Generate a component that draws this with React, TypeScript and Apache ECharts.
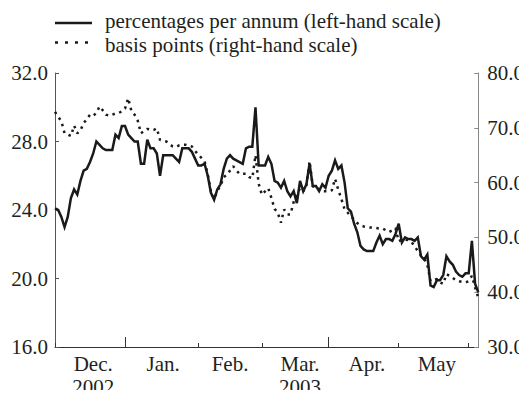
import React, { useEffect, useRef } from "react";
import * as echarts from "echarts";

// Trading days from 2 December 2002 to 5 June 2003
const FIRST_DAY = "2002-12-02";
const DAY_COUNT = 134;

// Solid line, left-hand scale (percentages per annum)
const percentagesPerAnnum = [
  24.1, 24.0, 23.6, 23.0, 23.6, 24.7, 25.2, 24.9, 25.7, 26.3,
  26.4, 26.8, 27.3, 28.0, 27.8, 27.6, 27.5, 27.5, 27.5, 28.4,
  28.2, 28.9, 28.9, 28.4, 28.2, 28.0, 28.0, 26.7, 26.7, 28.1,
  27.6, 27.6, 27.3, 26.0, 27.2, 27.2, 27.2, 27.2, 27.0, 26.8,
  27.6, 27.6, 27.6, 27.4, 27.0, 26.6, 26.6, 26.7, 26.0, 25.0,
  24.6, 25.2, 25.5, 26.4, 27.0, 27.2, 27.0, 26.9, 26.8, 26.7,
  27.6, 27.7, 27.7, 30.0, 26.6, 26.6, 26.6, 27.1, 26.7, 25.7,
  25.6, 25.3, 25.7, 25.1, 24.8, 25.1, 24.4, 25.7, 25.1, 25.5,
  26.7, 25.4, 25.4, 25.1, 25.5, 25.3, 26.0, 26.3, 26.9, 26.4,
  26.6, 25.6, 24.1, 23.9, 23.2, 22.7, 21.9, 21.7, 21.6, 21.6,
  21.6, 22.1, 22.5, 22.0, 22.3, 22.3, 22.2, 22.6, 23.2, 22.1,
  22.4, 22.3, 22.3, 22.2, 22.4, 21.3, 21.1, 21.4, 19.6, 19.5,
  19.9, 19.9, 20.2, 21.3, 21.0, 20.8, 20.4, 20.2, 20.1, 20.3,
  20.3, 22.2, 19.7, 19.2,
];

// Dotted line, right-hand scale (basis points)
const basisPoints = [
  72.9, 72.0, 71.2, 69.0, 68.8, 68.5, 70.4, 69.0, 69.5, 70.9,
  71.5, 72.4, 72.2, 72.7, 73.9, 73.2, 72.4, 72.2, 72.4, 72.6,
  72.7, 73.0, 73.5, 75.4, 73.1, 72.4, 71.3, 69.0, 69.4, 69.8,
  69.7, 69.6, 69.9, 67.8, 67.6, 67.5, 67.0, 66.6, 66.5, 66.8,
  66.9, 66.9, 66.7, 66.6, 65.8, 65.1, 64.5, 63.9, 61.5, 58.4,
  57.0, 58.5, 59.4, 61.0, 61.4, 62.2, 63.0, 62.2, 61.6, 61.6,
  61.6, 61.0, 60.8, 65.0, 59.8, 57.8, 58.4, 59.0, 57.2, 55.2,
  54.5, 52.7, 55.1, 54.2, 54.2, 56.5, 57.8, 59.0, 58.4, 59.5,
  63.9, 59.3, 59.3, 58.8, 58.4, 58.4, 58.4, 58.6, 60.7, 58.7,
  57.0, 55.1, 54.5, 53.8, 53.3, 52.6, 52.2, 52.0, 51.9, 51.8,
  51.8, 51.7, 51.6, 51.6, 51.3, 51.0, 51.3, 51.7, 49.3, 49.6,
  49.6, 49.5, 49.2, 48.4, 47.5, 46.7, 46.2, 45.0, 42.0, 42.2,
  42.4, 41.8, 41.5, 43.3, 43.0, 42.6, 42.2, 42.0, 41.9, 41.8,
  42.0, 43.0, 40.9, 39.0,
];

// Month names written under the axis, placed mid-month
const monthLabelDates = ["2002-12-18", "2003-01-17", "2003-02-17", "2003-03-19", "2003-04-17", "2003-05-19"];
const monthLabelTexts = ["Dec.", "Jan.", "Feb.", "Mar.", "Apr.", "May"];

// Years written below the first month of each year shown
const yearLabelDates = ["2002-12-18", "2003-03-19"];
const yearLabelTexts = ["2002", "2003"];

const leftTicks = { min: 16, max: 32, interval: 4 };
const rightTicks = { min: 30, max: 80, interval: 10 };

const SERIES_NAMES = ["percentages per annum (left-hand scale)", "basis points (right-hand scale)"];

function tradingDays(first: string, count: number): string[] {
  const out: string[] = [];
  const d = new Date(first + "T00:00:00Z");
  while (out.length < count) {
    const wd = d.getUTCDay();
    if (wd !== 0 && wd !== 6) out.push(d.toISOString().slice(0, 10));
    d.setUTCDate(d.getUTCDate() + 1);
  }
  return out;
}

const days = tradingDays(FIRST_DAY, DAY_COUNT);

const isMonthStart = (i: number) => i === 0 || days[i].slice(5, 7) !== days[i - 1].slice(5, 7);
const isQuarterStart = (i: number) =>
  i > 0 && isMonthStart(i) && ["01", "04", "07", "10"].includes(days[i].slice(5, 7));

const FONT = "Liberation Serif, Times New Roman, serif";
const FONT_SIZE = 21;
const INK = "#231f20";
const LINE = "#1a1a1a";
const DOTS = [2.5, 4.5];

export default function App() {
  const ref = useRef<HTMLDivElement>(null);

  useEffect(() => {
    if (!ref.current) return;
    const chart = echarts.init(ref.current, null, { renderer: "svg" });

    const labelFont = { fontFamily: FONT, fontSize: FONT_SIZE, color: INK };

    const yAxisCommon = {
      type: "value" as const,
      splitLine: { show: false },
      axisTick: { show: true, inside: true, length: 4, lineStyle: { color: "#555" } },
      axisLabel: { ...labelFont, formatter: (v: number) => v.toFixed(1) },
    };

    const legendText = (y: number, text: string) => ({
      type: "text",
      x: 105,
      y,
      style: {
        text,
        fontFamily: FONT,
        fontSize: FONT_SIZE,
        fill: INK,
        textVerticalAlign: "middle",
        textAlign: "left",
      },
    });

    chart.setOption({
      animation: false,
      backgroundColor: "#fff",
      textStyle: { fontFamily: FONT },
      graphic: [
        {
          type: "line",
          shape: { x1: 55, y1: 23, x2: 92, y2: 23 },
          style: { stroke: LINE, lineWidth: 2.5 },
        },
        legendText(21, SERIES_NAMES[0]),
        {
          type: "line",
          shape: { x1: 55, y1: 42.5, x2: 88, y2: 42.5 },
          style: { stroke: LINE, lineWidth: 2.5, lineDash: [3, 7] },
        },
        legendText(44.5, SERIES_NAMES[1]),
      ],
      grid: { left: 55, right: 48, top: 73, bottom: 50, containLabel: false },
      xAxis: [
        {
          type: "category",
          data: days,
          boundaryGap: false,
          axisLine: { show: true, lineStyle: { color: "#333", width: 1 } },
          axisTick: {
            show: true,
            inside: true,
            length: 4,
            interval: (i: number) => isMonthStart(i),
            lineStyle: { color: "#333" },
          },
          axisLabel: {
            show: true,
            interval: (_i: number, v: string) => monthLabelDates.includes(v),
            formatter: (v: string) => monthLabelTexts[monthLabelDates.indexOf(v)] ?? "",
            ...labelFont,
            lineHeight: 22,
            margin: 6,
          },
          splitLine: { show: false },
        },
        {
          // taller marks at the start of each quarter, years underneath the months
          type: "category",
          data: days,
          boundaryGap: false,
          position: "bottom",
          axisLine: { show: false },
          axisTick: {
            show: true,
            inside: true,
            length: 10,
            interval: (i: number) => isQuarterStart(i),
            lineStyle: { color: "#333" },
          },
          axisLabel: {
            show: true,
            interval: (_i: number, v: string) => yearLabelDates.includes(v),
            formatter: (v: string) => yearLabelTexts[yearLabelDates.indexOf(v)] ?? "",
            ...labelFont,
            lineHeight: 22,
            margin: 29,
          },
          splitLine: { show: false },
        },
      ],
      yAxis: [
        {
          ...yAxisCommon,
          ...leftTicks,
          position: "left",
          axisLine: { show: true, lineStyle: { color: "#555" } },
          axisLabel: { ...yAxisCommon.axisLabel, margin: 7 },
        },
        {
          ...yAxisCommon,
          ...rightTicks,
          position: "right",
          axisLine: { show: true, lineStyle: { color: "#888" } },
          axisTick: { ...yAxisCommon.axisTick, lineStyle: { color: "#888" } },
          axisLabel: { ...yAxisCommon.axisLabel, margin: 9 },
        },
      ],
      series: [
        {
          name: SERIES_NAMES[0],
          type: "line",
          xAxisIndex: 0,
          yAxisIndex: 0,
          data: percentagesPerAnnum,
          symbol: "none",
          showSymbol: false,
          lineStyle: { color: LINE, width: 2.5, join: "miter" },
          z: 3,
        },
        {
          name: SERIES_NAMES[1],
          type: "line",
          xAxisIndex: 0,
          yAxisIndex: 1,
          data: basisPoints,
          symbol: "none",
          showSymbol: false,
          lineStyle: { color: LINE, width: 2.5, type: DOTS, cap: "butt" },
          z: 2,
        },
      ],
    });

    return () => chart.dispose();
  }, []);

  return <div ref={ref} style={{ width: 527, height: 398, margin: -8 }} />;
}
